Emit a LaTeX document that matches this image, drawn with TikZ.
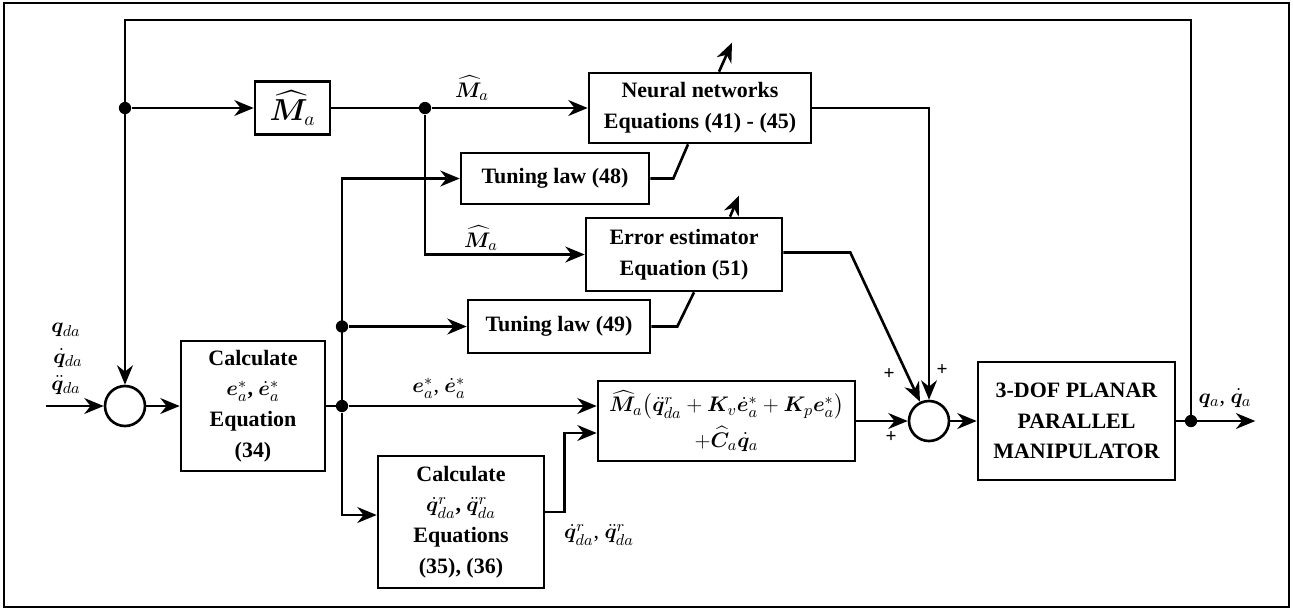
\documentclass[tikz,border=0pt]{standalone}
\usepackage{fontspec}
\setmainfont{Liberation Serif}
\usepackage{amsmath,bm}
\usetikzlibrary{arrows.meta,calc}
\tikzset{
  blk/.style={draw, line width=1.5pt, align=center, inner sep=2pt,
    font=\fontsize{12.5}{17.5}\selectfont\bfseries},
  sumc/.style={draw, circle, line width=1.5pt, minimum size=0.8cm, inner sep=0pt},
  jdot/.style={circle, fill, inner sep=0pt, minimum size=7pt},
  lbl/.style={font=\fontsize{12.5}{14}\selectfont},
  pls/.style={font=\fontsize{11}{13}\selectfont\bfseries},
  sig/.style={line width=1.5pt, -{Stealth[length=11pt,width=9pt,inset=3.5pt]}},
  wire/.style={line width=1.5pt},
}
\begin{document}
\begin{tikzpicture}[x=0.02cm, y=-0.02cm]
\useasboundingbox (0,0) rectangle (1293,610);
\draw[line width=1.2pt] (4,3) rectangle (1289,607);
% blocks
\node[blk, minimum width=1.5cm, minimum height=1.06cm, font=\fontsize{16}{18}\selectfont] (mhat) at (292.5,108) {$\widehat{\bm M}_a$};
\node[blk, minimum width=4.44cm, minimum height=1.4cm] (nn) at (700,108) {Neural networks\\Equations (41) - (45)};
\node[blk, minimum width=3.76cm, minimum height=1.02cm] (tun48) at (555,178.5) {Tuning law (48)};
\node[blk, minimum width=3.92cm, minimum height=1.46cm] (err) at (684,254.5) {Error estimator\\Equation (51)};
\node[blk, minimum width=3.64cm, minimum height=1.06cm] (tun49) at (559,326.5) {Tuning law (49)};
\node[blk, minimum width=2.88cm, minimum height=2.6cm] (calc1) at (253,406) {Calculate\\$\bm e^*_a$, $\dot{\bm e}^*_a$\\Equation\\(34)};
\node[blk, minimum width=5.14cm, minimum height=1.6cm, font=\fontsize{12.5}{20}\selectfont\bfseries] (ctrl) at (726.5,421) {$\widehat{\bm M}_a\big(\ddot{\bm q}^r_{da}+\bm K_v\dot{\bm e}^*_a+\bm K_p\bm e^*_a\big)$\\$+\widehat{\bm C}_a\dot{\bm q}_a$};
\node[blk, minimum width=3.32cm, minimum height=2.64cm] (calc2) at (461,522) {Calculate\\$\dot{\bm q}^r_{da}$, $\ddot{\bm q}^r_{da}$\\Equations\\(35), (36)};
\node[blk, minimum width=3.94cm, minimum height=2.36cm] (plant) at (1076.5,421) {3-DOF PLANAR\\PARALLEL\\MANIPULATOR};
\node[sumc] (sum1) at (125,406) {};
\node[sumc] (sum2) at (929,421) {};
% junctions
\coordinate (in) at (46,406);
\node[jdot] (fbl) at (125,108) {};
\node[jdot] (jm) at (425,108) {};
\node[jdot] (je) at (342,406) {};
\node[jdot] (j49) at (342,326.5) {};
\node[jdot] (jout) at (1191,421) {};
% connectors
\draw[sig] (in) -- (sum1);
\draw[sig] (sum1) -- (calc1);
\draw[wire] (calc1.east) -- (je);
\draw[sig] (je) -- (je -| ctrl.west);
\draw[sig] (je) |- (tun48.west);
\draw[sig] (j49) -- (tun49.west);
\draw[sig] (je) |- ($(calc2.west)+(0,-7)$);
\draw[sig] ($(calc2.east)+(0,-10)$) -- ++(19,0) |- ($(ctrl.west)+(0,12)$);
\draw[sig] (jout) -- (1191,20) -| (sum1.north);
\draw[sig] (fbl) -- (mhat.west);
\draw[wire] (mhat.east) -- (jm);
\draw[sig] (jm) -- (nn.west);
\draw[sig] (jm) |- (err.west);
\draw[wire] (tun48.east) -- ++(23,0) -- ($(nn.south)+(-12,0)$);
\draw[sig] ($(nn.north)+(19,0)$) -- ++(13,-29);
\draw[wire] (tun49.east) -- ++(26,0) -- ($(err.south)+(10,0)$);
\draw[sig] ($(err.north)+(46,0)$) -- ++(9,-21);
\draw[sig] (nn.east) -| (sum2.north);
\draw[sig] ($(err.east)+(0,-2)$) -- ++(67,0) -- (sum2);
\draw[sig] (ctrl.east) -- (sum2.west);
\draw[sig] (sum2) -- (plant);
\draw[sig] (plant.east) -- ++(79,0);
% labels
\node[lbl] (lq) at (66,330) {$\bm q_{da}$};
\node[lbl] (lqd) at (68,358) {$\dot{\bm q}_{da}$};
\node[lbl] (lqdd) at (66,385) {$\ddot{\bm q}_{da}$};
\node[lbl] (lm1) at (472,88) {$\widehat{\bm M}_a$};
\node[lbl] (lm2) at (481,238) {$\widehat{\bm M}_a$};
\node[lbl] (le) at (439,388) {$\bm e^*_a$, $\dot{\bm e}^*_a$};
\node[lbl] (lr) at (599,535) {$\dot{\bm q}^r_{da}$, $\ddot{\bm q}^r_{da}$};
\node[lbl] (lout) at (1225,398) {$\bm q_a$, $\dot{\bm q}_a$};
\node[pls] (p1) at (889,374) {+};
\node[pls] (p2) at (942,370) {+};
\node[pls] (p3) at (891,437) {+};
\end{tikzpicture}
\end{document}
